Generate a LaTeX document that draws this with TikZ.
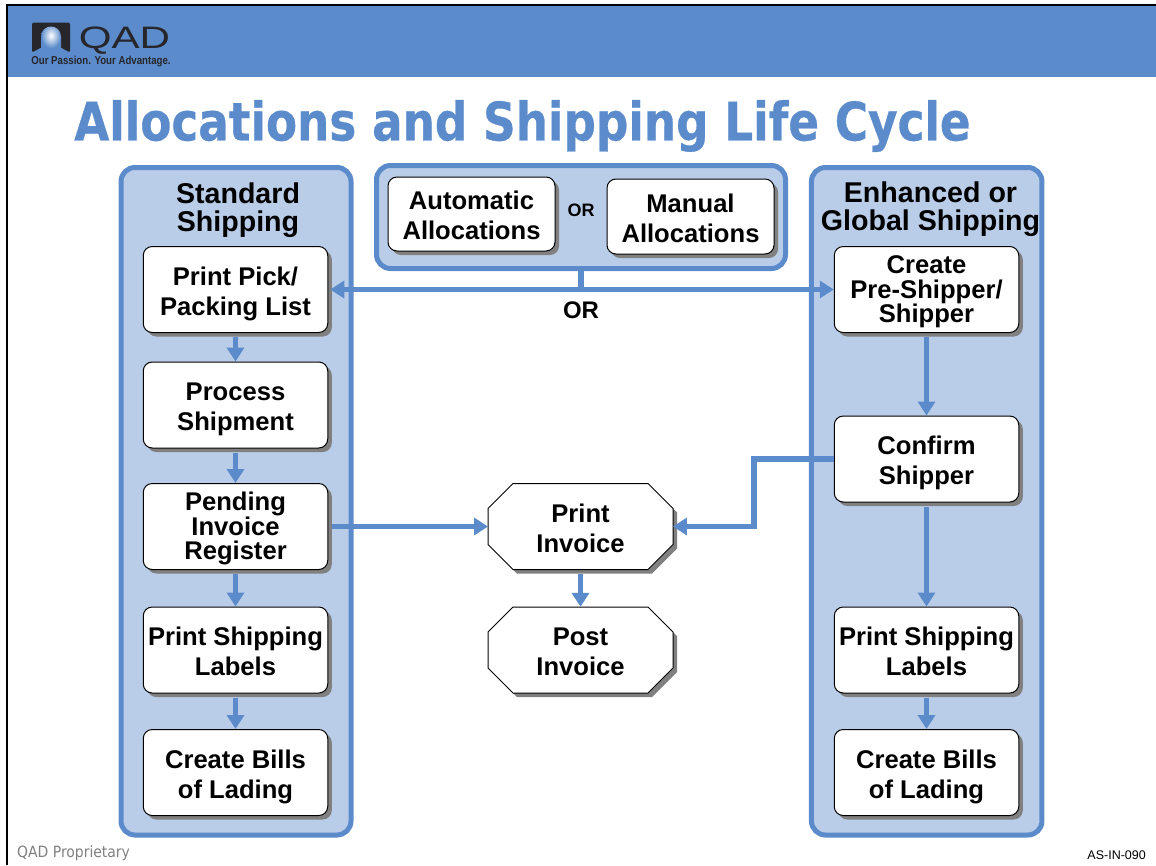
\documentclass[tikz,border=0pt]{standalone}
\usepackage{fontspec}
\setmainfont{Liberation Sans}
\newfontfamily\titlefont[BoldFeatures={FakeBold=0.6}]{DejaVu Sans Condensed}
\newfontfamily\footfont{DejaVu Sans Condensed}
\usetikzlibrary{arrows.meta,shadows}
\definecolor{qadblue}{HTML}{5B8BCB}
\definecolor{panelblue}{HTML}{BACDE8}
\definecolor{logodark}{HTML}{26262B}
\tikzset{
  panel/.style={draw=qadblue,fill=panelblue,line width=5pt,rounded corners=14pt,inner sep=0pt},
  boxtext/.style={inner sep=0pt,align=center,minimum width=184.5pt,minimum height=86pt,
    font=\bfseries\fontsize{25.6}{30}\selectfont,
    execute at begin node={\rule[-6pt]{0pt}{63pt}}},
  boxshadow/.style={drop shadow={shadow xshift=4pt,shadow yshift=-4pt,fill=black!50,opacity=1}},
  stepbox/.style={boxtext,boxshadow,draw=black,fill=white,line width=1pt,rounded corners=9pt},
  tightbox/.style={stepbox,font=\bfseries\fontsize{25.6}{24.5}\selectfont,
    execute at begin node={\rule[-6pt]{0pt}{78.5pt}}},
  octbox/.style={boxtext},
  octline/.style={boxshadow,draw=black,fill=white,line width=1pt},
  heading/.style={align=center,inner sep=0pt,font=\bfseries\fontsize{28.6}{28}\selectfont},
  flow/.style={draw=qadblue,line width=5.5pt,-{Triangle[width=17pt,length=14pt]}},
  plainflow/.style={draw=qadblue,line width=5.5pt}
}
\begin{document}
\begin{tikzpicture}[x=1pt,y=-1pt]
  \useasboundingbox (0,0) rectangle (1156,865);
  \fill[qadblue] (8,6) rectangle (1156,77);
  \draw[black,line width=2.2pt] (7,865) -- (7,5) -- (1156,5);
  \fill[logodark,rounded corners=2pt] (32,22.5) -- (70,22.5) -- (70,52.5) -- (60,47) -- (42,47) -- (32,52.5) -- cycle;
  \shade[inner color=white,outer color=qadblue] (41,48) -- (41,37) .. controls (41,23) and (61,23) .. (61,37) -- (61,48) -- cycle;
  \node[text=logodark,font=\fontsize{31}{31}\selectfont,xscale=1.36,inner sep=0pt] (logoname) at (124.5,40.5) {QAD};
  \node[font=\bfseries\fontsize{11.5}{12}\selectfont,text=logodark,xscale=0.84,inner sep=0pt] (logotag) at (101,62) {Our Passion. Your Advantage.};
  \node[font=\titlefont\bfseries\fontsize{53}{54}\selectfont,text=qadblue,xscale=0.95,inner sep=0pt] (maintitle) at (522.5,126) {Allocations and Shipping Life Cycle};

  \node[panel,minimum width=230pt,minimum height=667.5pt] (leftpanel) at (236,501.25) {};
  \node[panel,minimum width=230.5pt,minimum height=667.5pt] (rightpanel) at (926.7,501.25) {};
  \node[panel,minimum width=409pt,minimum height=103pt] (allocpanel) at (581,217) {};

  \node[heading] (stdtitle) at (238,210) {Standard\\Shipping};
  \node[heading] (enhtitle) at (930.5,209) {Enhanced or\\Global Shipping};

  \node[stepbox,minimum width=167pt,minimum height=74pt] (auto) at (471.5,214) {Automatic\\Allocations};
  \node[stepbox,minimum width=167pt,minimum height=75pt] (manual) at (690.5,216.5) {Manual\\Allocations};
  \node[inner sep=0pt,font=\bfseries\fontsize{18}{20}\selectfont] (orinner) at (581,210) {OR};

  \node[stepbox] (pick) at (235.5,289.5) {Print Pick/\\Packing List};
  \node[stepbox] (process) at (235.5,405) {Process\\Shipment};
  \node[tightbox] (pending) at (235.5,526.5) {Pending\\Invoice\\Register};
  \node[stepbox] (labelsl) at (235.5,650) {Print Shipping\\Labels};
  \node[stepbox] (billsl) at (235.5,772.5) {Create Bills\\of Lading};

  \node[tightbox] (create) at (926.5,289.5) {Create\\Pre-Shipper/\\Shipper};
  \node[stepbox] (confirm) at (926.5,459) {Confirm\\Shipper};
  \node[stepbox] (labelsr) at (926.5,650) {Print Shipping\\Labels};
  \node[stepbox] (billsr) at (926.5,772.5) {Create Bills\\of Lading};

  \foreach \i/\y/\t in {print/526.5/{Print\\Invoice},post/650/{Post\\Invoice}} {
    \draw[octline] (513,\y-43) -- (648,\y-43) -- (673,\y-18) -- (673,\y+18) -- (648,\y+43) -- (513,\y+43) -- (488,\y+18) -- (488,\y-18) -- cycle;
    \node[octbox] (\i) at (580.5,\y) {\t};
  }

  \node[inner sep=0pt,font=\bfseries\fontsize{24}{26}\selectfont] (orouter) at (581,310) {OR};

  \foreach \a/\b in {pick/process,process/pending,pending/labelsl,labelsl/billsl,create/confirm,confirm/labelsr,labelsr/billsr,print/post}
    \draw[flow,shorten <=4pt] (\a) -- (\b);
  \draw[flow,shorten <=2pt,{Triangle[width=17pt,length=14pt]}-{Triangle[width=17pt,length=14pt]}] (pick) -- (create);
  \draw[plainflow] (allocpanel.south) -- (allocpanel.south |- pick);
  \draw[flow,shorten <=4pt] (pending) -- (print);
  \draw[flow] (confirm.west) -- (754,459) -- (754,526.5) -- (print.east);

  \node[anchor=west,inner sep=0pt,text=black!50,font=\footfont\fontsize{15.5}{17}\selectfont] (footleft) at (17,853) {QAD Proprietary};
  \node[anchor=east,inner sep=0pt,font=\fontsize{12.5}{14}\selectfont] (footright) at (1146,855) {AS-IN-090};
\end{tikzpicture}
\end{document}
